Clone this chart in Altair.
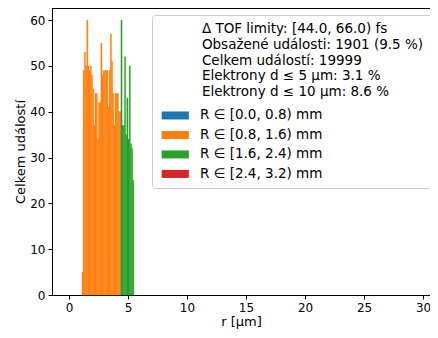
import altair as alt
import pandas as pd

bin_width = 0.1
orange_start = 1.1
orange_counts = [5, 49, 53, 50, 60, 50, 49, 50, 48, 45, 37, 44, 44, 34, 42, 42, 55,
                 48, 49, 49, 49, 49, 41, 49, 57, 51, 44, 37, 44, 44, 44, 40, 40]
green_start = 4.4
green_counts = [60, 37, 37, 52, 35, 43, 34, 50, 33, 32, 25]

categories = ["R ∈ [0.0, 0.8) mm", "R ∈ [0.8, 1.6) mm",
              "R ∈ [1.6, 2.4) mm", "R ∈ [2.4, 3.2) mm"]
colors = ["#1f77b4", "#ff7f0e", "#2ca02c", "#d62728"]

info_lines = [
    "Δ TOF limity: [44.0, 66.0) fs",
    "Obsažené události: 1901 (9.5 %)",
    "Celkem událostí: 19999",
    "Elektrony d ≤ 5 µm: 3.1 %",
    "Elektrony d ≤ 10 µm: 8.6 %",
]
x_ticks = [0, 5, 10, 15, 20, 25, 30]
y_ticks = [0, 10, 20, 30, 40, 50, 60]

rows = []
for i, c in enumerate(orange_counts):
    lo = round(orange_start + i * bin_width, 3)
    rows.append({"r0": lo, "r1": round(lo + bin_width, 3), "count": c, "base": 0, "cat": categories[1]})
for i, c in enumerate(green_counts):
    lo = round(green_start + i * bin_width, 3)
    rows.append({"r0": lo, "r1": round(lo + bin_width, 3), "count": c, "base": 0, "cat": categories[2]})
df = pd.DataFrame(rows)

indent = "\u200b" + "\u00a0" * 10
title_lines = [indent + t for t in info_lines]

FONT = "DejaVu Sans"
cscale = alt.Scale(domain=categories, range=colors)

chart = alt.Chart(df).mark_rect(strokeWidth=0.4).encode(
    x=alt.X("r0:Q", scale=alt.Scale(domain=[-1.44, 30.59], nice=False, zero=False),
            axis=alt.Axis(values=x_ticks, title="r [µm]", format="d")),
    x2="r1:Q",
    y=alt.Y("count:Q", scale=alt.Scale(domain=[0, 62.66], nice=False),
            axis=alt.Axis(values=y_ticks, title="Celkem událostí", format="d")),
    y2="base:Q",
    stroke=alt.Stroke("cat:N", scale=cscale, legend=None),
    color=alt.Color("cat:N", scale=cscale,
                    legend=alt.Legend(
                        title=title_lines, orient="none", legendX=100, legendY=7,
                        fillColor="white", strokeColor="#cccccc", cornerRadius=3,
                        padding=7, titleFontSize=13.5, titleFontWeight="normal",
                        titleColor="black", titleFont=FONT, titleLineHeight=15.8,
                        titlePadding=10, titleLimit=500, labelFontSize=13.5, labelFont=FONT,
                        labelColor="black", labelLimit=400,
                        symbolType="M-3.4,-1H3.4V1H-3.4Z", symbolSize=64,
                        symbolStrokeWidth=0, symbolOffset=9.5, labelOffset=18,
                        rowPadding=4.5, symbolOpacity=1)),
).properties(
    width=378, height=287,
    autosize=alt.AutoSizeParams(type="none"),
    padding={"left": 44, "top": 0, "right": 0, "bottom": 35},
).configure_view(
    stroke="black", strokeWidth=1
).configure_axis(
    labelFont=FONT, labelFontSize=12, labelColor="black",
    titleFont=FONT, titleFontSize=13, titleFontWeight="normal", titleColor="black",
    tickColor="black", domainColor="black", tickSize=4, grid=False,
    labelPadding=3, titlePadding=2,
)

chart.save("out.html", embed_options={"renderer": "svg", "actions": False})
